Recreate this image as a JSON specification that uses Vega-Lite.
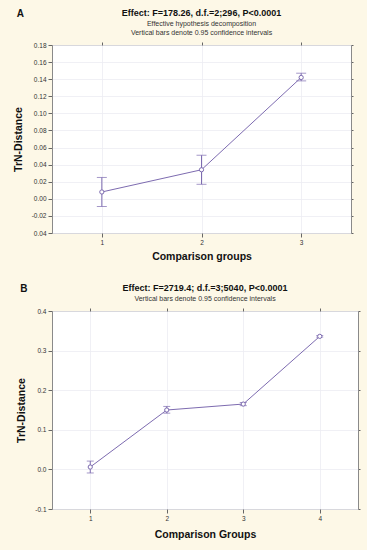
{
  "$schema": "https://vega.github.io/schema/vega-lite/v6.json",
  "background": "#fdf8e7",
  "padding": {"left": 12, "top": 8, "right": 6, "bottom": 10},
  "spacing": 20,
  "datasets": {
    "a": [
      {"group": 1, "mean": 0.008, "lo": -0.009, "hi": 0.025},
      {"group": 2, "mean": 0.034, "lo": 0.017, "hi": 0.051},
      {"group": 3, "mean": 0.142, "lo": 0.138, "hi": 0.147}
    ],
    "b": [
      {"group": 1, "mean": 0.006, "lo": -0.009, "hi": 0.021},
      {"group": 2, "mean": 0.150, "lo": 0.142, "hi": 0.159},
      {"group": 3, "mean": 0.165, "lo": 0.161, "hi": 0.169},
      {"group": 4, "mean": 0.336, "lo": 0.334, "hi": 0.338}
    ]
  },
  "config": {
    "font": "Liberation Sans",
    "view": {"fill": "white", "stroke": "#8a8a8a", "strokeWidth": 1},
    "axis": {
      "labelFont": "Liberation Sans", "labelFontSize": 6.5, "labelColor": "#333",
      "titleFont": "Liberation Sans", "titleFontSize": 10.5, "titleFontWeight": "bold", "titleColor": "#111",
      "domain": false, "tickColor": "#666", "tickSize": 4, "gridColor": "#ececf2", "gridWidth": 0.8
    },
    "title": {"font": "Liberation Sans", "fontSize": 9, "fontWeight": "bold", "color": "#111",
      "subtitleFont": "Liberation Sans", "subtitleFontSize": 7, "subtitleColor": "#333", "subtitleLineHeight": 9, "subtitlePadding": 2}
  },
  "vconcat": [
    {
      "title": {"text": "A", "anchor": "start", "frame": "bounds", "offset": -11, "dx": 4, "fontSize": 10},
      "vconcat": [
        {
          "width": 299, "height": 188,
          "title": {"text": "Effect: F=178.26, d.f.=2;296, P<0.0001", "subtitle": ["Effective hypothesis decomposition", "Vertical bars denote 0.95 confidence intervals"], "offset": 6},
          "data": {"name": "a"},
          "resolve": {"axis": {"x": "independent", "y": "independent"}},
          "layer": [
            {
              "mark": {"type": "rule", "color": "#7d6bb0", "strokeWidth": 1},
              "encoding": {
                "x": {"field": "group", "type": "quantitative", "scale": {"domain": [0.5, 3.5], "nice": false, "zero": false},
                  "axis": {"orient": "top", "values": [1, 2, 3], "labels": false, "grid": false, "title": null, "tickSize": 3}},
                "y": {"field": "lo", "type": "quantitative", "scale": {"domain": [-0.04, 0.18], "nice": false, "zero": false},
                  "axis": {"orient": "right", "values": [-0.04, -0.02, 0, 0.02, 0.04, 0.06, 0.08, 0.1, 0.12, 0.14, 0.16, 0.18], "labels": false, "grid": false, "title": null, "tickSize": 2}},
                "y2": {"field": "hi"}
              }
            },
            {
              "mark": {"type": "tick", "orient": "horizontal", "color": "#7d6bb0", "size": 10, "thickness": 1},
              "encoding": {
                "x": {"field": "group", "type": "quantitative", "axis": null},
                "y": {"field": "lo", "type": "quantitative", "axis": null}
              }
            },
            {
              "mark": {"type": "tick", "orient": "horizontal", "color": "#7d6bb0", "size": 10, "thickness": 1},
              "encoding": {
                "x": {"field": "group", "type": "quantitative", "axis": null},
                "y": {"field": "hi", "type": "quantitative", "axis": null}
              }
            },
            {
              "mark": {"type": "line", "color": "#7d6bb0", "strokeWidth": 1},
              "encoding": {
                "x": {"field": "group", "type": "quantitative",
                  "axis": {"values": [1, 2, 3], "title": "Comparison groups", "labelPadding": 2, "titlePadding": 6, "grid": true}},
                "y": {"field": "mean", "type": "quantitative",
                  "axis": {"values": [-0.04, -0.02, 0, 0.02, 0.04, 0.06, 0.08, 0.1, 0.12, 0.14, 0.16, 0.18], "title": "TrN-Distance", "labelPadding": 2, "titlePadding": 8, "grid": true,
                    "labelExpr": "datum.value < -0.03 ? '0.04' : replace(format(datum.value, '.2f'), '−', '-')"}}
              }
            },
            {
              "mark": {"type": "point", "shape": "circle", "filled": true, "fill": "white", "stroke": "#7d6bb0", "strokeWidth": 1, "size": 18, "opacity": 1},
              "encoding": {
                "x": {"field": "group", "type": "quantitative", "axis": null},
                "y": {"field": "mean", "type": "quantitative", "axis": null}
              }
            }
          ]
        }
      ]
    },
    {
      "title": {"text": "B", "anchor": "start", "frame": "bounds", "offset": -11, "dx": 4, "fontSize": 10},
      "vconcat": [
        {
          "width": 306, "height": 198,
          "title": {"text": "Effect: F=2719.4; d.f.=3;5040, P<0.0001", "subtitle": ["Vertical bars denote 0.95 confidence intervals"], "offset": 6},
          "data": {"name": "b"},
          "resolve": {"axis": {"x": "independent", "y": "independent"}},
          "layer": [
            {
              "mark": {"type": "rule", "color": "#7d6bb0", "strokeWidth": 1},
              "encoding": {
                "x": {"field": "group", "type": "quantitative", "scale": {"domain": [0.5, 4.5], "nice": false, "zero": false},
                  "axis": {"orient": "top", "values": [1, 2, 3, 4], "labels": false, "grid": false, "title": null, "tickSize": 3}},
                "y": {"field": "lo", "type": "quantitative", "scale": {"domain": [-0.1, 0.4], "nice": false, "zero": false},
                  "axis": {"orient": "right", "values": [-0.1, 0, 0.1, 0.2, 0.3, 0.4], "labels": false, "grid": false, "title": null, "tickSize": 2}},
                "y2": {"field": "hi"}
              }
            },
            {
              "mark": {"type": "tick", "orient": "horizontal", "color": "#7d6bb0", "size": 7, "thickness": 1},
              "encoding": {
                "x": {"field": "group", "type": "quantitative", "axis": null},
                "y": {"field": "lo", "type": "quantitative", "axis": null}
              }
            },
            {
              "mark": {"type": "tick", "orient": "horizontal", "color": "#7d6bb0", "size": 7, "thickness": 1},
              "encoding": {
                "x": {"field": "group", "type": "quantitative", "axis": null},
                "y": {"field": "hi", "type": "quantitative", "axis": null}
              }
            },
            {
              "mark": {"type": "line", "color": "#7d6bb0", "strokeWidth": 1},
              "encoding": {
                "x": {"field": "group", "type": "quantitative",
                  "axis": {"values": [1, 2, 3, 4], "title": "Comparison Groups", "labelPadding": 2, "titlePadding": 8, "grid": true}},
                "y": {"field": "mean", "type": "quantitative",
                  "axis": {"values": [-0.1, 0, 0.1, 0.2, 0.3, 0.4], "title": "TrN-Distance", "labelPadding": 2, "titlePadding": 8, "grid": true,
                    "labelExpr": "replace(format(datum.value, '.1f'), '−', '-')"}}
              }
            },
            {
              "mark": {"type": "point", "shape": "circle", "filled": true, "fill": "white", "stroke": "#7d6bb0", "strokeWidth": 1, "size": 18, "opacity": 1},
              "encoding": {
                "x": {"field": "group", "type": "quantitative", "axis": null},
                "y": {"field": "mean", "type": "quantitative", "axis": null}
              }
            }
          ]
        }
      ]
    }
  ]
}
